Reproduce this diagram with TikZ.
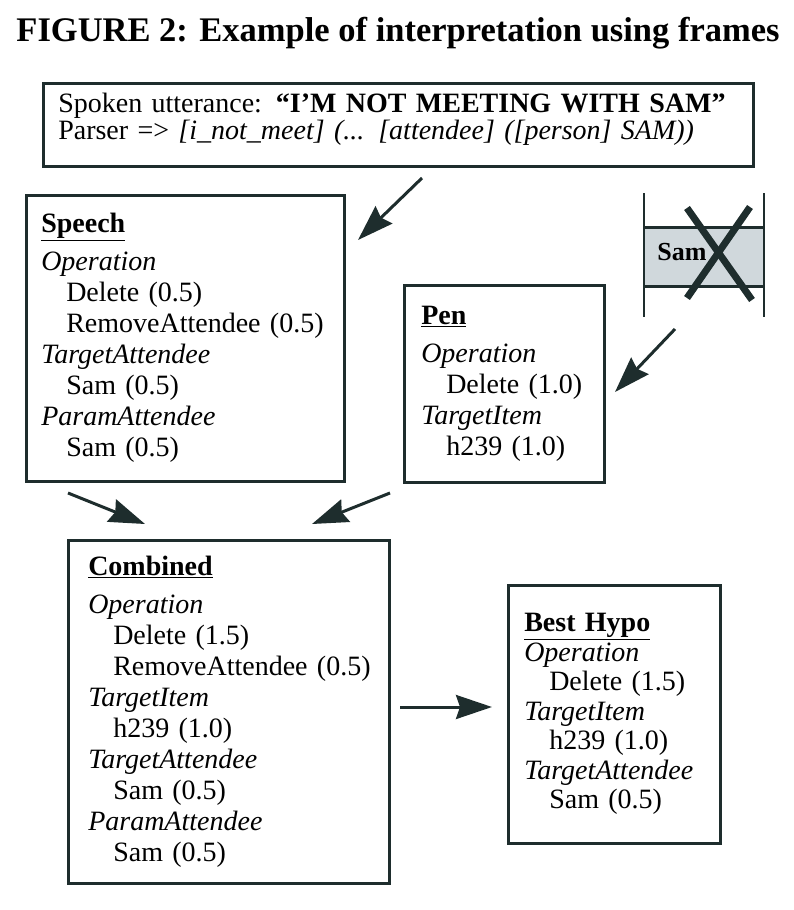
\documentclass[tikz,border=0pt]{standalone}
\usepackage{fontspec}
\setmainfont{Liberation Serif}
\usetikzlibrary{arrows.meta}

\definecolor{inkdark}{RGB}{30,45,45}
\definecolor{bandfill}{RGB}{208,216,220}

% field names, values and frame headings
\newcommand{\fld}[1]{\textit{#1}}
\newcommand{\val}[1]{\hspace*{25pt}\mbox{#1}}
\newcommand{\hd}[1]{\underline{\textbf{#1}}\\[7pt]}

\begin{document}
\begin{tikzpicture}[x=1pt, y=1pt, font=\fontsize{28}{31}\selectfont,
    frame/.style={draw=inkdark, line width=2.5pt, anchor=north west, align=left,
        inner xsep=15pt, inner ysep=6pt},
    flow/.style={draw=inkdark, line width=3pt,
        -{Stealth[length=36pt, width=24pt, inset=4pt]}}]

    \useasboundingbox (0,0) rectangle (794,-910);

    % Title
    \node[font=\fontsize{34.5}{40}\selectfont\bfseries] (title) at (398,-33)
        {FIGURE 2: Example of interpretation using frames};

    % Utterance box
    \node[frame, text width=680pt, minimum height=83pt, text height=20pt, text depth=45pt,
          font=\fontsize{28}{27}\selectfont] (utter) at (42,-82)
        {Spoken utterance: \textbf{“I’M NOT MEETING WITH SAM”}\\
         Parser => \textit{[i\_not\_meet] (... [attendee] ([person] SAM))}};

    % Speech frame
    \node[frame, text width=288pt, minimum height=286pt] (speech) at (25,-194)
        {\hd{Speech}
         \fld{Operation}\\
         \val{Delete (0.5)}\\
         \val{RemoveAttendee (0.5)}\\
         \fld{TargetAttendee}\\
         \val{Sam (0.5)}\\
         \fld{ParamAttendee}\\
         \val{Sam (0.5)}};

    % Pen frame
    \node[frame, text width=166pt, minimum height=197pt, inner xsep=17pt] (pen) at (403,-284)
        {\hd{Pen}
         \fld{Operation}\\
         \val{Delete (1.0)}\\
         \fld{TargetItem}\\
         \val{h239 (1.0)}};

    % Combined frame
    \node[frame, text width=281pt, minimum height=343pt, inner xsep=20pt] (combined) at (67,-539)
        {\hd{Combined}
         \fld{Operation}\\
         \val{Delete (1.5)}\\
         \val{RemoveAttendee (0.5)}\\
         \fld{TargetItem}\\
         \val{h239 (1.0)}\\
         \fld{TargetAttendee}\\
         \val{Sam (0.5)}\\
         \fld{ParamAttendee}\\
         \val{Sam (0.5)}};

    % Best hypothesis frame
    \node[frame, text width=180pt, minimum height=258pt, inner xsep=16pt,
          font=\fontsize{28}{29.5}\selectfont] (best) at (507,-584)
        {\underline{\textbf{Best Hypo}}\\
         \fld{Operation}\\
         \val{Delete (1.5)}\\
         \fld{TargetItem}\\
         \val{h239 (1.0)}\\
         \fld{TargetAttendee}\\
         \val{Sam (0.5)}};

    % Pen gesture: crossed-out Sam
    \fill[bandfill] (644,-227) rectangle (764,-286);
    \draw[inkdark, line width=2.5pt] (644,-193) -- (644,-317);
    \draw[inkdark, line width=2.5pt] (764,-193) -- (764,-317);
    \draw[inkdark, line width=3pt] (644,-227) -- (764,-227);
    \draw[inkdark, line width=3pt] (644,-286) -- (764,-286);
    \node[font=\fontsize{26}{28}\selectfont\bfseries] (samtag) at (682,-252) {Sam};
    \draw[inkdark, line width=7pt] (687,-208) -- (752,-300);
    \draw[inkdark, line width=7pt] (750,-207) -- (687,-298);

    % Arrow end points
    \coordinate (utterout) at (422,-178);
    \coordinate (speechin) at (358,-240);
    \coordinate (gestout) at (675,-329);
    \coordinate (penin) at (615,-392);
    \coordinate (speechout) at (68,-493);
    \coordinate (penout) at (390,-493);
    \coordinate (combinedinl) at (145,-524);
    \coordinate (combinedinr) at (312,-524);
    \coordinate (combinedout) at (400,-707);
    \coordinate (bestin) at (492,-707);

    % Arrows
    \draw[flow] (utterout) -- (speechin);
    \draw[flow] (gestout) -- (penin);
    \draw[flow] (speechout) -- (combinedinl);
    \draw[flow] (penout) -- (combinedinr);
    \draw[flow] (combinedout) -- (bestin);
\end{tikzpicture}
\end{document}
